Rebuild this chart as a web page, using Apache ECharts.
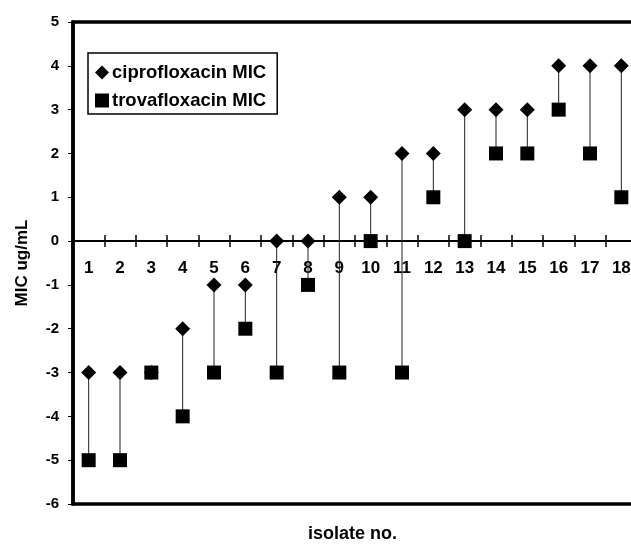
<!DOCTYPE html>
<html>
<head>
<meta charset="utf-8">
<script src="https://cdn.jsdelivr.net/npm/echarts@6/dist/echarts.min.js"></script>
<style>
  html, body { margin: 0; padding: 0; background: #fff; }
  #chart { width: 631px; height: 546px; }
</style>
</head>
<body>
<div id="chart"></div>
<script>
// isolate numbers and MIC values (log2 scale)
var isolates = ['1','2','3','4','5','6','7','8','9','10','11','12','13','14','15','16','17','18'];
var cipro = [-3, -3, -3, -2, -1, -1, 0, 0, 1, 1, 2, 2, 3, 3, 3, 4, 4, 4];
var trova = [-5, -5, -3, -4, -3, -2, -3, -1, -3, 0, -3, 1, 0, 2, 2, 3, 2, 1];
var yTicks = [-6, -5, -4, -3, -2, -1, 0, 1, 2, 3, 4, 5];

var font = 'Liberation Sans, Arial, sans-serif';

var pairs = isolates.map(function (c, i) { return [i, cipro[i], trova[i]]; });

// plot box
var boxLeft = 73, boxTop = 22, boxW = 564, boxH = 482;
var yMin = yTicks[0], yMax = yTicks[yTicks.length - 1];
var zeroY = boxTop + boxH * yMax / (yMax - yMin);

var tickStyle = { color: '#000', width: 1.5 };

var chart = echarts.init(document.getElementById('chart'));
chart.setOption({
    backgroundColor: '#fff',
    animation: false,
    title: {
        text: 'isolate no.',
        left: 308,
        top: 525,
        textStyle: { fontFamily: font, fontSize: 18, fontWeight: 'bold', color: '#000' },
        padding: 0
    },
    legend: {
        orient: 'vertical',
        left: 88,
        top: 53,
        padding: [10, 11, 4, 7],
        itemGap: 9,
        itemWidth: 14,
        itemHeight: 14,
        borderColor: '#000',
        borderWidth: 1.5,
        backgroundColor: '#fff',
        textStyle: { fontFamily: font, fontSize: 18.5, fontWeight: 'bold', color: '#000', padding: [0, 0, 0, -2] },
        data: [
            { name: 'ciprofloxacin MIC', icon: 'diamond' },
            { name: 'trovafloxacin MIC', icon: 'rect' }
        ]
    },
    grid: [{
        left: boxLeft, top: boxTop, width: boxW, height: boxH,
        outerBoundsMode: 'none',
        show: true,
        borderColor: '#000',
        borderWidth: 3.5,
        backgroundColor: 'transparent'
    }, {
        // upper half: its bottom edge is the zero line, carries labels and downward ticks
        left: boxLeft, top: boxTop, width: boxW, height: zeroY - boxTop,
        outerBoundsMode: 'none'
    }, {
        // lower half: its top edge is the zero line, carries upward ticks
        left: boxLeft, top: zeroY, width: boxW, height: boxTop + boxH - zeroY,
        outerBoundsMode: 'none'
    }],
    xAxis: [{
        gridIndex: 0,
        type: 'category',
        data: isolates,
        show: false
    }, {
        gridIndex: 1,
        type: 'category',
        data: isolates,
        position: 'bottom',
        axisLine: { onZero: false, lineStyle: { color: '#000', width: 2 } },
        axisTick: { show: true, length: 6, lineStyle: tickStyle },
        axisLabel: { margin: 19, fontFamily: font, fontSize: 17, fontWeight: 'bold', color: '#000' },
        splitLine: { show: false }
    }, {
        gridIndex: 2,
        type: 'category',
        data: isolates,
        position: 'top',
        axisLine: { show: false, onZero: false },
        axisTick: { show: true, length: 6, lineStyle: tickStyle },
        axisLabel: { show: false },
        splitLine: { show: false }
    }],
    yAxis: [{
        gridIndex: 0,
        type: 'value',
        min: yMin,
        max: yMax,
        interval: 1,
        name: 'MIC ug/mL',
        nameLocation: 'middle',
        nameGap: 42,
        nameTextStyle: { fontFamily: font, fontSize: 17, fontWeight: 'bold', color: '#000' },
        axisLine: { show: true, onZero: false, lineStyle: { color: '#000', width: 3.5 } },
        axisTick: { show: true, length: 5, lineStyle: { color: '#000', width: 1 } },
        axisLabel: { margin: 14, fontFamily: font, fontSize: 15, fontWeight: 'bold', color: '#000' },
        splitLine: { show: false }
    }, {
        gridIndex: 1, type: 'value', show: false, min: 0, max: 1, splitLine: { show: false }
    }, {
        gridIndex: 2, type: 'value', show: false, min: -1, max: 0, splitLine: { show: false }
    }],
    series: [{
        type: 'custom',
        name: 'range',
        xAxisIndex: 0,
        yAxisIndex: 0,
        data: pairs,
        z: 1,
        silent: true,
        renderItem: function (params, api) {
            var a = api.coord([api.value(0), api.value(1)]);
            var b = api.coord([api.value(0), api.value(2)]);
            return {
                type: 'line',
                shape: { x1: a[0], y1: a[1], x2: b[0], y2: b[1] },
                style: { stroke: '#222', lineWidth: 1 }
            };
        }
    }, {
        type: 'scatter',
        name: 'ciprofloxacin MIC',
        xAxisIndex: 0,
        yAxisIndex: 0,
        data: cipro,
        symbol: 'diamond',
        symbolSize: 15,
        z: 3,
        itemStyle: { color: '#000', opacity: 1 }
    }, {
        type: 'scatter',
        name: 'trovafloxacin MIC',
        xAxisIndex: 0,
        yAxisIndex: 0,
        data: trova,
        symbol: 'rect',
        symbolSize: 14,
        z: 4,
        itemStyle: { color: '#000', opacity: 1 }
    }]
});
</script>
</body>
</html>
